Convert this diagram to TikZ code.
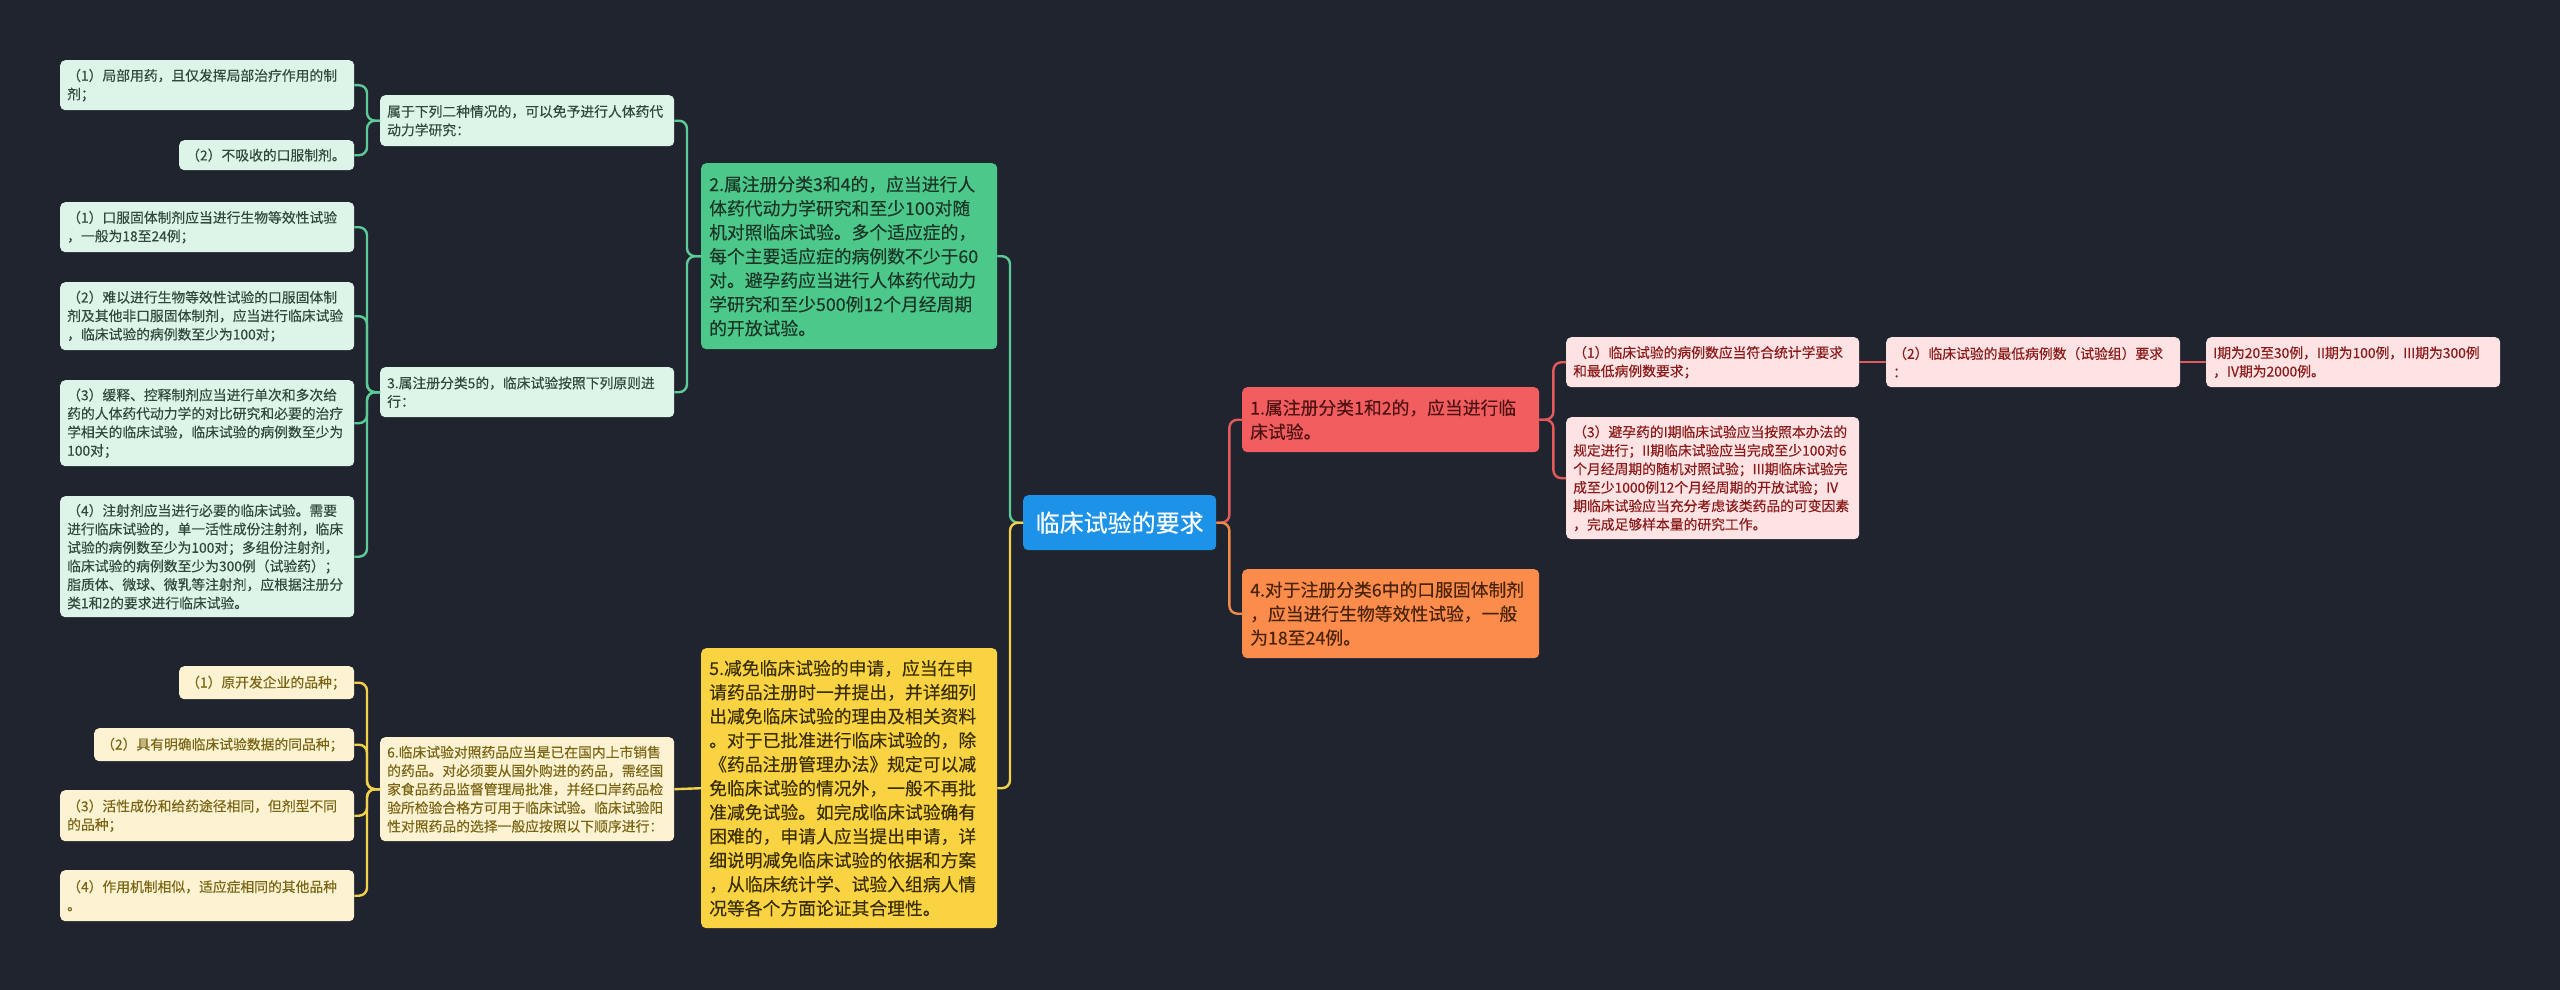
\documentclass[tikz,border=0pt]{standalone}
\usepackage{fontspec}
\setmainfont[FakeBold=0.3]{Noto Sans CJK SC}
\definecolor{bg}{HTML}{20242F}
\definecolor{gbig}{HTML}{4CC98A}
\definecolor{gbigtext}{HTML}{1B3527}
\definecolor{gfill}{HTML}{DDF5E8}
\definecolor{gtext}{HTML}{2F4A3B}
\definecolor{gline}{HTML}{5DCB97}
\definecolor{ybig}{HTML}{FAD343}
\definecolor{ybigtext}{HTML}{3A2F00}
\definecolor{yfill}{HTML}{FDF3D3}
\definecolor{ytext}{HTML}{7A6515}
\definecolor{yline}{HTML}{F2D24B}
\definecolor{cblue}{HTML}{1C93E8}
\definecolor{rbig}{HTML}{F25E60}
\definecolor{rbigtext}{HTML}{4F1212}
\definecolor{obig}{HTML}{FB8C4B}
\definecolor{obigtext}{HTML}{4A2308}
\definecolor{pfill}{HTML}{FDE3E3}
\definecolor{ptext}{HTML}{8B1A1A}
\definecolor{rline}{HTML}{E25B5B}
\definecolor{oline}{HTML}{F08A4B}
\begin{document}
\begin{tikzpicture}[x=1pt,y=-1pt,
  box/.style={rounded corners=5pt, anchor=north west, align=left, inner ysep=0pt},
  small/.style={box, inner xsep=7pt, font=\fontsize{13.8}{18.5}\selectfont},
  big/.style={box, inner xsep=8pt, font=\fontsize{17.8}{24}\selectfont},
  lgbox/.style={small, fill=gfill, text=gtext},
  lybox/.style={small, fill=yfill, text=ytext},
  pbox/.style={small, fill=pfill, text=ptext},
  conn/.style={line width=2.4pt, rounded corners=8pt},
  gl/.style={conn, draw=gline},
  yl/.style={conn, draw=yline},
  rl/.style={conn, draw=rline},
  ol/.style={conn, draw=oline}]
\fill[bg] (0,0) rectangle (2560,990);
\useasboundingbox (0,0) rectangle (2560,990);

% green group
\node[lgbox, text width=280pt, minimum height=50pt] (L1a) at (60,60) {（1）局部用药，且仅发挥局部治疗作用的制\\剂；};
\node[lgbox, text width=161pt, minimum height=30pt] (L1b) at (179,140) {（2）不吸收的口服制剂。};
\node[lgbox, text width=280pt, minimum height=51pt] (P1) at (380,95) {属于下列二种情况的，可以免予进行人体药代\\动力学研究：};
\node[lgbox, text width=280pt, minimum height=50pt] (L3a) at (60,202) {（1）口服固体制剂应当进行生物等效性试验\\，一般为18至24例；};
\node[lgbox, text width=280pt, minimum height=68pt] (L3b) at (60,282) {（2）难以进行生物等效性试验的口服固体制\\剂及其他非口服固体制剂，应当进行临床试验\\，临床试验的病例数至少为100对；};
\node[lgbox, text width=280pt, minimum height=50pt] (P3) at (380,367) {3.属注册分类5的，临床试验按照下列原则进\\行：};
\node[lgbox, text width=280pt, minimum height=86pt] (L3c) at (60,380) {（3）缓释、控释制剂应当进行单次和多次给\\药的人体药代动力学的对比研究和必要的治疗\\学相关的临床试验，临床试验的病例数至少为\\100对；};
\node[lgbox, text width=280pt, minimum height=121pt] (L3d) at (60,496) {（4）注射剂应当进行必要的临床试验。需要\\进行临床试验的，单一活性成份注射剂，临床\\试验的病例数至少为100对；多组份注射剂，\\临床试验的病例数至少为300例（试验药）；\\脂质体、微球、微乳等注射剂，应根据注册分\\类1和2的要求进行临床试验。};
\node[big, fill=gbig, text=gbigtext, text width=280pt, minimum height=186pt] (G2) at (701,163) {2.属注册分类3和4的，应当进行人\\体药代动力学研究和至少100对随\\机对照临床试验。多个适应症的，\\每个主要适应症的病例数不少于60\\对。避孕药应当进行人体药代动力\\学研究和至少500例12个月经周期\\的开放试验。};

% yellow group
\node[lybox, text width=161pt, minimum height=33pt] (Y1) at (179,666) {（1）原开发企业的品种；};
\node[lybox, text width=246pt, minimum height=33pt] (Y2) at (94,728) {（2）具有明确临床试验数据的同品种；};
\node[lybox, text width=280pt, minimum height=104pt] (P6) at (380,737) {6.临床试验对照药品应当是已在国内上市销售\\的药品。对必须要从国外购进的药品，需经国\\家食品药品监督管理局批准，并经口岸药品检\\验所检验合格方可用于临床试验。临床试验阳\\性对照药品的选择一般应按照以下顺序进行：};
\node[lybox, text width=280pt, minimum height=51pt] (Y3) at (60,790) {（3）活性成份和给药途径相同，但剂型不同\\的品种；};
\node[lybox, text width=280pt, minimum height=51pt] (Y4) at (60,870) {（4）作用机制相似，适应症相同的其他品种\\。};
\node[big, fill=ybig, text=ybigtext, text width=280pt, minimum height=280pt] (Y5) at (701,648) {5.减免临床试验的申请，应当在申\\请药品注册时一并提出，并详细列\\出减免临床试验的理由及相关资料\\。对于已批准进行临床试验的，除\\《药品注册管理办法》规定可以减\\免临床试验的情况外，一般不再批\\准减免试验。如完成临床试验确有\\困难的，申请人应当提出申请，详\\细说明减免临床试验的依据和方案\\，从临床统计学、试验入组病人情\\况等各个方面论证其合理性。};

% center
\node[box, fill=cblue, text=white, align=center, inner xsep=0pt, text width=193pt, minimum height=55pt, font=\fontsize{24}{30}\selectfont] (C) at (1023,495) {临床试验的要求};

% right
\node[big, fill=rbig, text=rbigtext, text width=281pt, minimum height=65pt] (RN1) at (1242,387) {1.属注册分类1和2的，应当进行临\\床试验。};
\node[big, fill=obig, text=obigtext, text width=281pt, minimum height=89pt] (O4) at (1242,569) {4.对于注册分类6中的口服固体制剂\\，应当进行生物等效性试验，一般\\为18至24例。};
\node[pbox, text width=279pt, minimum height=50pt] (R1) at (1566,337) {（1）临床试验的病例数应当符合统计学要求\\和最低病例数要求；};
\node[pbox, text width=280pt, minimum height=50pt] (R2) at (1886,337) {（2）临床试验的最低病例数（试验组）要求\\：};
\node[pbox, text width=280pt, minimum height=50pt] (R3) at (2206,337) {I期为20至30例，II期为100例，III期为300例\\，IV期为2000例。};
\node[pbox, text width=279pt, minimum height=122pt] (R4) at (1566,417) {（3）避孕药的I期临床试验应当按照本办法的\\规定进行；II期临床试验应当完成至少100对6\\个月经周期的随机对照试验；III期临床试验完\\成至少1000例12个月经周期的开放试验；IV\\期临床试验应当充分考虑该类药品的可变因素\\，完成足够样本量的研究工作。};

% connectors
\draw[gl] (P1.west) -- ++(-13,0) |- (L1a.east);
\draw[gl] (P1.west) -- ++(-13,0) |- (L1b.east);
\draw[gl] (P3.west) -- ++(-13,0) |- (L3a.east);
\draw[gl] (P3.west) -- ++(-13,0) |- (L3b.east);
\draw[gl] (P3.west) -- ++(-13,0) |- (L3c.east);
\draw[gl] (P3.west) -- ++(-13,0) |- (L3d.east);
\draw[gl] (G2.west) -- ++(-14,0) |- (P1.east);
\draw[gl] (G2.west) -- ++(-14,0) |- (P3.east);
\draw[gl] (C.west) -- ++(-13,0) |- (G2.east);
\draw[yl] (C.west) -- ++(-13,0) |- (Y5.east);
\draw[yl] (Y5.west) -- (P6.east);
\draw[yl] (P6.west) -- ++(-13,0) |- (Y1.east);
\draw[yl] (P6.west) -- ++(-13,0) |- (Y2.east);
\draw[yl] (P6.west) -- ++(-13,0) |- (Y3.east);
\draw[yl] (P6.west) -- ++(-13,0) |- (Y4.east);
\draw[rl] (C.east) -- ++(13,0) |- (RN1.west);
\draw[ol] (C.east) -- ++(13,0) |- (O4.west);
\draw[rl] (RN1.east) -- ++(14,0) |- (R1.west);
\draw[rl] (RN1.east) -- ++(14,0) |- (R4.west);
\draw[rl] (R1.east) -- (R2.west);
\draw[rl] (R2.east) -- (R3.west);
\end{tikzpicture}
\end{document}
